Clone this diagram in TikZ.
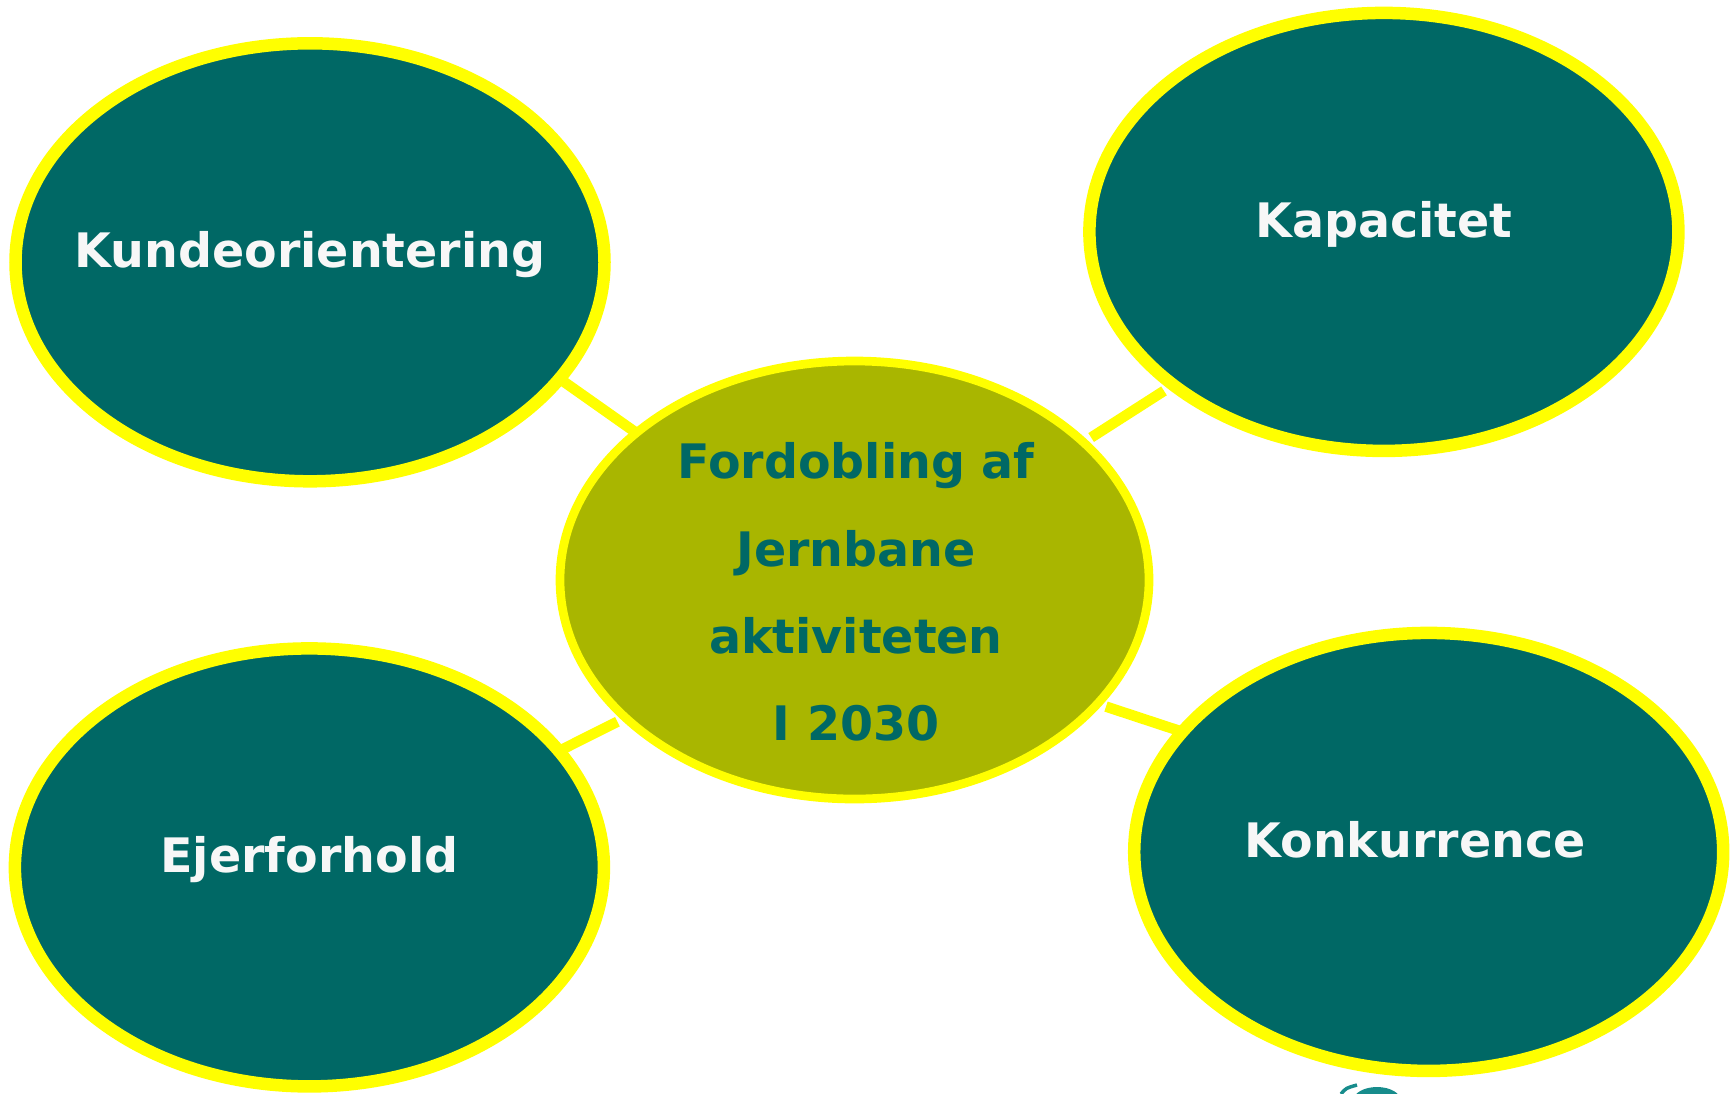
\documentclass[tikz,border=0pt]{standalone}
\usepackage{fontspec}
\setmainfont{DejaVu Sans}
\usetikzlibrary{shapes.geometric}
\definecolor{petrol}{HTML}{006865}
\definecolor{olive}{HTML}{A9B600}
\definecolor{signal}{HTML}{FFFF00}
\definecolor{snow}{HTML}{F7F7F7}
\definecolor{logoteal}{HTML}{178C8C}
\begin{document}
\begin{tikzpicture}[x=1pt,y=-1pt,
  theme/.style={ellipse, minimum width=589pt, minimum height=438pt,
    inner sep=0pt, outer sep=0pt, draw=signal, fill=petrol, line width=12.5pt},
  core/.style={ellipse, minimum width=589pt, minimum height=438pt,
    inner sep=0pt, outer sep=0pt, draw=signal, fill=olive, line width=8.7pt},
  themetext/.style={anchor=base, text=snow, inner sep=0pt,
    font=\fontsize{47.5}{56}\selectfont\bfseries},
  coretext/.style={anchor=base, text=petrol, inner sep=0pt,
    font=\fontsize{47.5}{56}\selectfont\bfseries},
  link/.style={draw=signal, line width=10.5pt}
]
\clip (0,0) rectangle (1736,1093);
\fill[white] (0,0) rectangle (1736,1093);

% the four themes around the goal
\node[theme] (kund) at (310,262.3) {};
\node[theme] (kap)  at (1383.9,231.9) {};
\node[theme] (ejer) at (309.4,867.4) {};
\node[theme] (konk) at (1428.7,851.9) {};
% the goal in the middle
\node[core] (mid) at (854.5,580) {};

% connectors
\draw[link] (kund.-25) -- (mid.146.4);
\draw[link, shorten <=9pt, shorten >=11pt] (mid.31.5) -- (kap.216.2);
\draw[link, shorten >=9pt] (ejer.25.2) -- (mid.211.7);
\draw[link, shorten <=9pt] (mid.-27.1) -- (konk.154.9);

% labels
\node[themetext] (tkund) at (310,267.3)    {Kundeorientering};
\node[themetext] (tkap)  at (1383.9,237)   {Kapacitet};
\node[themetext] (tejer) at (309.4,872.4)  {Ejerforhold};
\node[themetext] (tkonk) at (1415,857)     {Konkurrence};

\node[coretext] (m1) at (856,478.3) {Fordobling af};
\node[coretext] (m2) at (856,566.7) {Jernbane};
\node[coretext] (m3) at (856,653.3) {aktiviteten};
\node[coretext] (m4) at (856,740)   {I 2030};

% logo peeking in at the lower edge
\fill[logoteal] (1377,1101) ellipse [x radius=24, y radius=14];
\draw[logoteal, line width=3.5pt] (1341,1094) .. controls (1346,1088) .. (1357,1085);
\end{tikzpicture}
\end{document}
